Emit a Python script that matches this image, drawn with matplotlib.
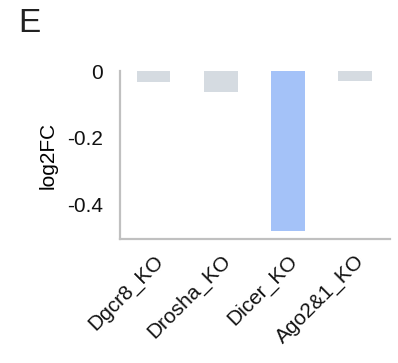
import numpy as np
import matplotlib.pyplot as plt

plt.rcParams['font.family'] = ['Liberation Sans', 'DejaVu Sans']

categories = ['Dgcr8_KO', 'Drosha_KO', 'Dicer_KO', 'Ago2&1_KO']
log2fc     = [-0.033, -0.063, -0.48, -0.029]
colors     = ['#d5dbe1', '#d5dbe1', '#a4c2f8', '#d5dbe1']

fig = plt.figure(figsize=(3.98, 3.63), dpi=100)
ax = fig.add_axes([0.3015, 0.3416, 0.6785, 0.4625])

x = np.arange(len(categories))
ax.bar(x, log2fc, width=0.5, color=colors)

ax.set_xlim(-0.5, 3.52)
ax.set_ylim(-0.505, 0)
ax.set_yticks([0, -0.2, -0.4])
ax.set_yticklabels(['0', '-0.2', '-0.4'])
ax.set_xticks(x)
ax.set_xticklabels(categories, rotation=45, ha='right', rotation_mode='anchor')

ax.tick_params(axis='both', length=0, labelsize=15, colors='#111111')
ax.tick_params(axis='y', pad=12)
ax.tick_params(axis='x', pad=9)
ax.set_ylabel('log2FC', fontsize=15, labelpad=7)

for side in ['top', 'right']:
    ax.spines[side].set_visible(False)
for side in ['left', 'bottom']:
    ax.spines[side].set_color('#c0c0c0')
    ax.spines[side].set_linewidth(1.6)

fig.text(0.045, 0.912, 'E', fontsize=24, color='#222222')

fig.savefig('out.png', dpi=100)
